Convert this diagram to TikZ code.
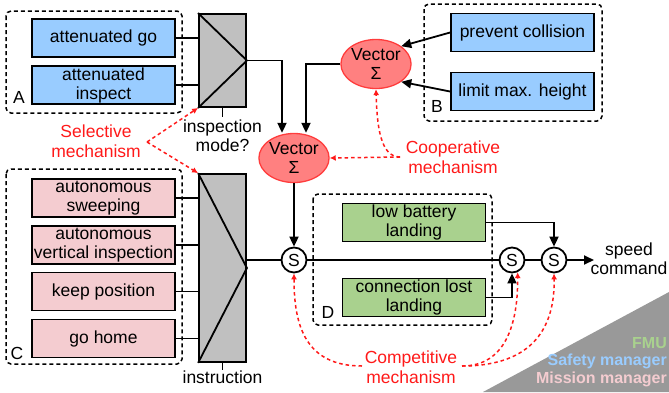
\documentclass[tikz,border=0pt]{standalone}
\usepackage{fontspec}
\setmainfont{Liberation Sans}
\usetikzlibrary{arrows.meta}
\usetikzlibrary{calc}
\usetikzlibrary{positioning}
\usetikzlibrary{shapes.geometric}
\definecolor{safetyblue}{RGB}{153,204,255}
\definecolor{missionpink}{RGB}{244,204,208}
\definecolor{fmugreen}{RGB}{169,209,142}
\definecolor{muxgray}{RGB}{192,192,192}
\definecolor{vecfill}{RGB}{255,128,128}
\definecolor{vecborder}{RGB}{255,60,60}
\definecolor{mechred}{RGB}{255,25,25}
\definecolor{legendgray}{RGB}{153,153,153}

\begin{document}
\begin{tikzpicture}
	[x=1pt,y=-1pt,
	every node/.style={font=\fontsize{17.5}{19}\selectfont},
	behaviour/.style={draw,line width=1.8pt,minimum width=143pt,minimum height=38pt,inner sep=0pt,align=center},
	safety/.style={behaviour,fill=safetyblue},
	mission/.style={behaviour,fill=missionpink},
	fmu/.style={behaviour,fill=fmugreen},
	mux/.style={draw,line width=1.8pt,fill=muxgray,minimum width=47pt,inner sep=0pt},
	vector/.style={ellipse,draw=vecborder,line width=1.3pt,fill=vecfill,minimum width=68pt,minimum height=49pt,inner sep=0pt,align=center},
	sum/.style={circle,draw,line width=1.8pt,fill=white,minimum size=25pt,inner sep=0pt},
	group/.style={line width=1.5pt,dash pattern=on 4pt off 3pt,rounded corners=5pt},
	line/.style={line width=1.8pt},
	conn/.style={line,-{Triangle[length=10pt,width=9pt]}},
	mech/.style={mechred,line width=1.5pt,dash pattern=on 3.5pt off 3pt,-{Latex[length=6pt,width=6pt]}},
	mechtext/.style={text=mechred,align=center,font=\fontsize{17.5}{19.5}\selectfont},
	legend/.style={anchor=east,inner sep=0pt,font=\fontsize{16}{18}\selectfont\bfseries}]
	\useasboundingbox (0,0) rectangle (669,392);

	% legend corner
	\fill[legendgray] (483,392) -- (669,292) -- (669,392) -- cycle;
	\node[legend,text=fmugreen] (legfmu) at (667,343) {FMU};
	\node[legend,text=safetyblue] (legsafety) at (667,361) {Safety manager};
	\node[legend,text=missionpink] (legmission) at (667,379) {Mission manager};

	% groups
	\draw[group] (6,11) rectangle (182,113);
	\draw[group] (424,4) rectangle (602,121);
	\draw[group] (6,169) rectangle (182,364);
	\draw[group] (313,194) rectangle (492,325);
	\node (lblA) at (19,97) {A};
	\node (lblB) at (437,106) {B};
	\node (lblC) at (17,353) {C};
	\node (lblD) at (328,312) {D};

	% behaviours
	\node[safety] (go) at (103.5,38) {attenuated go};
	\node[safety] (inspect) at (103.5,85) {attenuated\\inspect};
	\node[safety] (collision) at (522.5,32.5) {prevent collision};
	\node[safety] (height) at (522.5,91.5) {limit max. height};
	\node[mission] (sweep) at (103.5,198) {autonomous\\sweeping};
	\node[mission] (vertical) at (103.5,245) {autonomous\\vertical inspection};
	\node[mission] (keep) at (103.5,291.5) {keep position};
	\node[mission] (home) at (103.5,338.5) {go home};
	\node[fmu] (battery) at (414,222.5) {low battery\\landing};
	\node[fmu] (lost) at (414,297.5) {connection lost\\landing};

	% multiplexers
	\node[mux,minimum height=93pt] (mux1) at (222.5,60.5) {};
	\draw[line] (mux1.north west) -- (mux1.east) -- (mux1.south west);
	\node[mux,minimum height=188pt] (mux2) at (222.5,268) {};
	\draw[line] (mux2.north west) -- (mux2.east) -- (mux2.south west);
	\foreach \b in {go,inspect}
		\draw[line] (\b.east) -- (\b.east -| mux1.west);
	\foreach \b in {sweep,vertical,keep,home}
		\draw[line] (\b.east) -- (\b.east -| mux2.west);
	\coordinate (ctl1) at ($(mux1.south)+(0,9)$);
	\draw[line] (mux1.south) -- (ctl1);
	\node[below,inner sep=3pt,align=center] (ctl1lbl) at (ctl1) {inspection\\mode?};
	\coordinate (ctl2) at ($(mux2.south)+(0,7)$);
	\draw[line] (mux2.south) -- (ctl2);
	\node[below,inner sep=1pt] (ctl2lbl) at (ctl2) {instruction};

	% vector sums
	\node[vector] (vecB) at (376,64) {Vector\\Σ};
	\node[vector] (vecMain) at (294,158) {Vector\\Σ};
	\draw[conn] (collision.west) -- (vecB.north east);
	\draw[conn] (height.west) -- (vecB.south east);
	\draw[conn] (mux1.east) -| ([xshift=-12pt]vecMain.north);
	\draw[conn] (vecB.west) -| ([xshift=12pt]vecMain.north);

	% subsumption
	\node[sum] (s1) at (294,260) {S};
	\node[sum] (s2) at (512,260) {S};
	\node[sum] (s3) at (554,260) {S};
	\coordinate (out) at (594,260);
	\draw[conn] (vecMain.south) -- (s1.north);
	\draw[line] (mux2.east |- s1) -- (s1.west);
	\draw[line] (s1.east) -- (s2.west);
	\draw[line] (s2.east) -- (s3.west);
	\draw[conn] (s3.east) -- (out);
	\node[align=center,inner sep=0pt] (speed) at (629,259) {speed\\command};
	\draw[conn] (battery.east) -| (s3.north);
	\draw[conn] (lost.east) -| (s2.south);

	% mechanisms
	\node[mechtext] (selmech) at (96,141) {Selective\\mechanism};
	\coordinate (selfork) at (147,142);
	\draw[mech] (selfork) -- (mux1.south west);
	\draw[mech] (selfork) -- (mux2.north west);
	\node[mechtext] (coopmech) at (453,157) {Cooperative\\mechanism};
	\coordinate (coopfork) at (400,157);
	\draw[mech] (coopfork) -- (vecMain.east);
	\draw[mech] (coopfork) .. controls (380,157) and (377,125) .. (vecB.south);
	\node[mechtext] (compmech) at (411,367) {Competitive\\mechanism};
	\coordinate (compL) at (362,366);
	\coordinate (compR) at (462,366);
	\draw[mech] (compL) .. controls (305,366) and (294,325) .. (s1.south);
	\draw[mech] (compR) .. controls (505,366) and (518,325) .. (s2.-65);
	\draw[mech] (compR) .. controls (535,366) and (555,325) .. (s3.south);
\end{tikzpicture}
\end{document}
